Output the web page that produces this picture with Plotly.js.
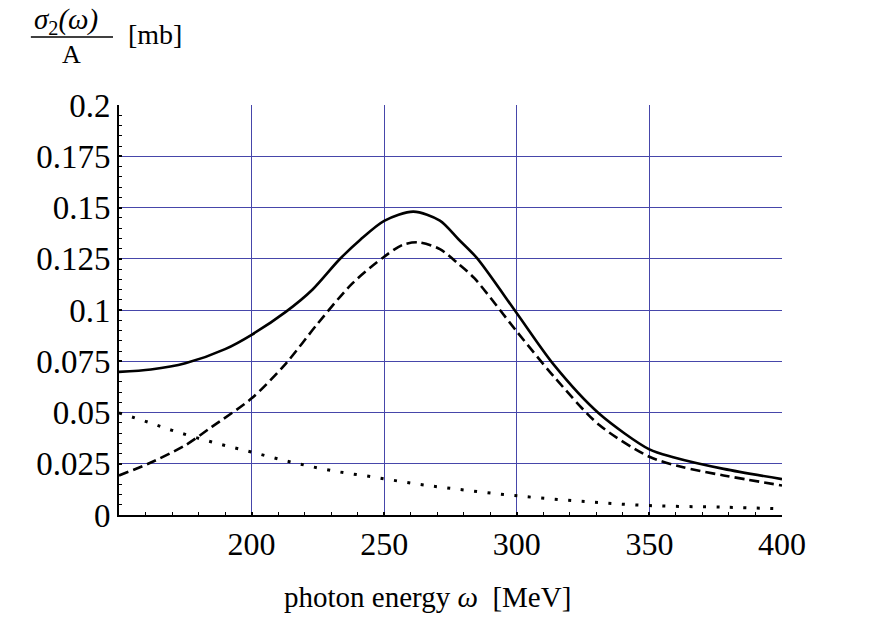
<!DOCTYPE html>
<html>
<head>
<meta charset="utf-8">
<script src="https://cdn.plot.ly/plotly-3.0.1.min.js"></script>
<style>html,body{margin:0;padding:0;background:#fff;}#chart{width:872px;height:623px;}</style>
</head>
<body>
<div id="chart"></div>
<script>
// Total sigma_2 / A (solid)
const solidX = [150,162,175,190,200,213,223,233,241,250,261,271,278,285,300,314,331,350,359,378,400];
const solidY = [0.0698,0.0710,0.0740,0.0809,0.0879,0.0992,0.110,0.1245,0.1343,0.1435,0.148,0.1436,0.1345,0.1253,0.0984,0.0732,0.0495,0.032,0.0282,0.0225,0.0175];
// Dashed component
const dashX = [150,161,175,185,200,213,225,238,250,257,263,271,278,284,300,314,331,350,362,378,400];
const dashY = [0.0193,0.025,0.034,0.043,0.0569,0.074,0.0935,0.113,0.126,0.1318,0.133,0.1297,0.1225,0.1155,0.0895,0.0675,0.044,0.0284,0.0235,0.0193,0.0144];
// Dotted component
const dotX = [150,160,170,185,200,215,230,246,262,277,299,324,350,378,400];
const dotY = [0.0498,0.0457,0.0413,0.0356,0.0307,0.0258,0.0217,0.0185,0.0152,0.0127,0.0095,0.0067,0.0046,0.0038,0.003];

const xTickVals = [200,250,300,350,400];
const xTickText = ['200','250','300','350','400'];
const yTickVals = [0,0.025,0.05,0.075,0.1,0.125,0.15,0.175,0.2];
const yTickText = ['0','0.025','0.05','0.075','0.1','0.125','0.15','0.175','0.2'];

const xTitle = 'photon energy <i>ω</i>  [MeV]';
const yTitleNum = '<i>σ</i><sub>2</sub><i>(ω)</i>';
const yTitleDen = 'A';
const yTitleUnit = '[mb]';

const serif = 'Liberation Serif, Times New Roman, serif';
const gridCol = '#4646aa';

const traces = [
  {x: solidX, y: solidY, mode:'lines', line:{color:'black', width:2.6, shape:'spline', smoothing:0.8}, hoverinfo:'skip'},
  {x: dashX, y: dashY, mode:'lines', line:{color:'black', width:2.6, shape:'spline', smoothing:0.8, dash:'10px,5px'}, hoverinfo:'skip'},
  {x: dotX, y: dotY, mode:'lines', line:{color:'black', width:3, shape:'spline', dash:'3px,10.5px'}, hoverinfo:'skip'}
];

const layout = {
  width: 872, height: 623,
  paper_bgcolor:'white', plot_bgcolor:'white',
  showlegend:false,
  margin:{l:119, r:90, t:105, b:108},
  xaxis:{
    range:[150,400], tickmode:'array', tickvals:xTickVals, ticktext:xTickText,
    showgrid:true, gridcolor:gridCol, gridwidth:1,
    showline:true, linecolor:'black', linewidth:2, mirror:false,
    ticks:'inside', ticklen:3, tickwidth:2, tickcolor:'black',
    tickfont:{family:serif, size:32, color:'black'},
    ticklabelstandoff:0,
    zeroline:false,
    minor:{tickmode:'linear', tick0:150, dtick:10, ticks:'inside', ticklen:3, tickwidth:1, tickcolor:'black', showgrid:false}
  },
  yaxis:{
    range:[0,0.2], tickmode:'array', tickvals:yTickVals, ticktext:yTickText,
    showgrid:true, gridcolor:gridCol, gridwidth:1,
    showline:true, linecolor:'black', linewidth:2, mirror:false,
    ticks:'inside', ticklen:3, tickwidth:2, tickcolor:'black',
    tickfont:{family:serif, size:33, color:'black'},
    ticklabelstandoff:0,
    zeroline:false,
    minor:{tickmode:'linear', tick0:0, dtick:0.005, ticks:'inside', ticklen:3, tickwidth:1, tickcolor:'black', showgrid:false}
  },
  shapes:[
    {type:'line', xref:'paper', yref:'paper', x0:-88/662, x1:-6/662, y0:1+68/410, y1:1+68/410, line:{color:'black', width:1.5}}
  ],
  annotations:[
    {xref:'paper', yref:'paper', x:-53/662, y:1+84/410, xanchor:'center', yanchor:'middle', showarrow:false,
     text:yTitleNum, font:{family:serif, size:29, color:'black'}},
    {xref:'paper', yref:'paper', x:-47/662, y:1+50/410, xanchor:'center', yanchor:'middle', showarrow:false,
     text:yTitleDen, font:{family:serif, size:26, color:'black'}},
    {xref:'paper', yref:'paper', x:7/662, y:1+71/410, xanchor:'left', yanchor:'middle', showarrow:false,
     text:yTitleUnit, font:{family:serif, size:28, color:'black'}},
    {xref:'paper', yref:'paper', x:308/662, y:-82/410, xanchor:'center', yanchor:'middle', showarrow:false,
     text:xTitle, font:{family:serif, size:29, color:'black'}}
  ]
};

Plotly.newPlot('chart', traces, layout, {staticPlot:true, displayModeBar:false});
</script>
</body>
</html>
